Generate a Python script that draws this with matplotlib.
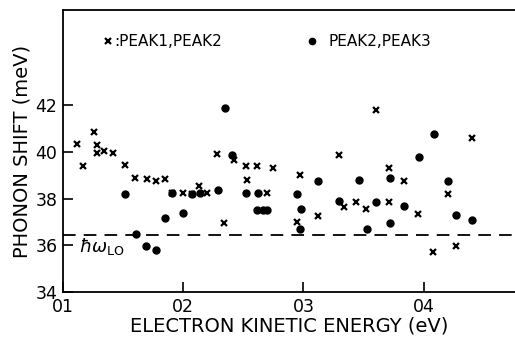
import matplotlib.pyplot as plt
from matplotlib.ticker import FixedLocator, FixedFormatter

# PEAK1, PEAK2 (crosses)
cross_e = [0.112, 0.117, 0.126, 0.128, 0.128, 0.134, 0.142, 0.152, 0.160, 0.170,
           0.177, 0.185, 0.191, 0.200, 0.207, 0.213, 0.220, 0.228, 0.234, 0.242,
           0.252, 0.253, 0.261, 0.270, 0.275, 0.297, 0.295, 0.312, 0.330, 0.334,
           0.344, 0.352, 0.360, 0.371, 0.371, 0.384, 0.395, 0.408, 0.420, 0.427,
           0.440]
cross_shift = [40.35, 39.4, 40.85, 40.3, 39.95, 40.05, 39.95, 39.45, 38.9, 38.85,
               38.75, 38.85, 38.25, 38.25, 38.2, 38.55, 38.25, 39.9, 36.95, 39.65,
               39.4, 38.8, 39.4, 38.25, 39.3, 39.0, 37.0, 37.25, 39.85, 37.65,
               37.85, 37.55, 41.8, 39.3, 37.85, 38.75, 37.35, 35.7, 38.2, 35.95,
               40.6]

# PEAK2, PEAK3 (dots)
dot_e = [0.152, 0.161, 0.169, 0.177, 0.185, 0.191, 0.200, 0.207, 0.214, 0.229,
         0.235, 0.241, 0.252, 0.262, 0.261, 0.266, 0.270, 0.295, 0.298, 0.297,
         0.312, 0.330, 0.346, 0.353, 0.360, 0.372, 0.372, 0.384, 0.396, 0.409,
         0.420, 0.427, 0.440]
dot_shift = [38.2, 36.5, 35.95, 35.8, 37.15, 38.25, 37.4, 38.2, 38.25, 38.35,
             41.9, 39.85, 38.25, 38.25, 37.5, 37.5, 37.5, 38.2, 37.55, 36.7,
             38.75, 37.9, 38.8, 36.7, 37.85, 38.9, 36.95, 37.7, 39.8, 40.75,
             38.75, 37.3, 37.1]

hw_lo = 36.45
xticks = [0.1, 0.2, 0.3, 0.4]
xticklabels = ['01', '02', '03', '04']
yticks = [34, 36, 38, 40, 42]

plt.rcParams['font.family'] = ['DejaVu Sans']

fig = plt.figure(figsize=(5.15, 3.39), dpi=100)
ax = fig.add_axes([0.1223, 0.1386, 0.8777, 0.832])

ax.plot(cross_e, cross_shift, ls='none', marker='x', ms=5, mew=1.6, color='black')
ax.plot(dot_e, dot_shift, ls='none', marker='o', ms=5, color='black')
ax.axhline(hw_lo, color='black', lw=1.3, dashes=(7, 4.5))

ax.text(0.113, 35.95, r'$\hbar\omega_{\mathrm{LO}}$', fontsize=13, va='center', ha='left')

# key at the top of the frame
ax.plot([0.1375], [44.75], ls='none', marker='x', ms=5, mew=1.6, color='black')
ax.text(0.1425, 44.75, ':PEAK1,PEAK2', fontsize=11, va='center', ha='left')
ax.plot([0.3075], [44.75], ls='none', marker='o', ms=4.5, color='black')
ax.text(0.3205, 44.75, 'PEAK2,PEAK3', fontsize=11, va='center', ha='left')

ax.set_xlim(0.1, 0.476)
ax.set_ylim(34, 46.08)
ax.xaxis.set_major_locator(FixedLocator(xticks))
ax.xaxis.set_major_formatter(FixedFormatter(xticklabels))
ax.set_yticks(yticks)
ax.tick_params(direction='in', length=7, width=1.2, labelsize=12.5, pad=4)
ax.spines['right'].set_visible(False)
for s in ['left', 'top', 'bottom']:
    ax.spines[s].set_linewidth(1.3)

ax.set_xlabel('ELECTRON KINETIC ENERGY (eV)', fontsize=14, labelpad=1)
ax.set_ylabel('PHONON SHIFT (meV)', fontsize=14, labelpad=3)

fig.savefig('out.png', dpi=100)
